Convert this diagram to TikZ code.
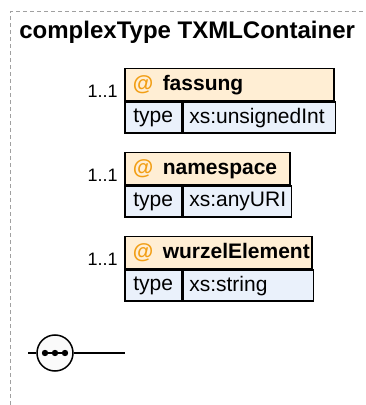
\documentclass[tikz,border=0pt]{standalone}
\usepackage{fontspec}
\setmainfont{Liberation Sans}
\usepackage{tikz}
\usetikzlibrary{positioning,calc}
\definecolor{hdrfill}{RGB}{255,238,212}
\definecolor{typfill}{RGB}{234,241,251}
\definecolor{atorange}{RGB}{242,158,20}
\definecolor{frame}{RGB}{160,160,160}
\tikzset{
  hdr/.style={draw, fill=hdrfill, line width=0.75pt, anchor=north west, minimum height=16pt, inner xsep=4pt, inner ysep=0pt, align=left, font=\fontsize{10.5}{12}\selectfont\bfseries},
  tkey/.style={draw, fill=typfill, line width=0.75pt, anchor=north west, minimum height=15.5pt, minimum width=28.5pt, inner sep=0pt, font=\fontsize{10.5}{12}\selectfont},
  tval/.style={draw, fill=typfill, line width=0.75pt, anchor=north west, minimum height=15.5pt, inner xsep=3pt, inner ysep=0pt, align=left, font=\fontsize{10.5}{12}\selectfont},
  card/.style={anchor=base east, inner sep=0pt, font=\fontsize{9}{10}\selectfont},
  wire/.style={line width=0.75pt},
}
\newcommand{\attname}[1]{\mbox{\makebox[15pt][l]{\color{atorange}@}#1}}

\begin{document}
\begin{tikzpicture}[x=0.5pt,y=0.5pt]
\useasboundingbox (0,0) rectangle (365,405);
% outer frame of the complex type
\draw[frame, line width=0.5pt, dash pattern=on 2pt off 1.5pt] (10,0) -- (10,393) -- (365,393);
\node[anchor=base west, inner sep=0pt, font=\fontsize{12}{14}\selectfont\bfseries] (title) at (19,366) {complexType TXMLContainer};
% attribute fassung
\node[hdr, text width=96.5pt] (fassung) at (124,337) {\attname{fassung}};
\node[card] at ([xshift=-3pt, yshift=2pt]fassung.south west) {1..1};
\node[tkey] (fassungKey) at (fassung.south west) {type};
\node[tval, text width=70pt] (fassungTyp) at (fassungKey.north east) {xs:unsignedInt};
% attribute namespace
\node[hdr, text width=74.5pt] (nsp) at (124,253) {\attname{namespace}};
\node[card] at ([xshift=-3pt, yshift=2pt]nsp.south west) {1..1};
\node[tkey] (nspKey) at (nsp.south west) {type};
\node[tval, text width=48pt] (nspTyp) at (nspKey.north east) {xs:anyURI};
% attribute wurzelElement
\node[hdr, text width=85.5pt] (wurzel) at (124,169) {\attname{wurzelElement}};
\node[card] at ([xshift=-3pt, yshift=2pt]wurzel.south west) {1..1};
\node[tkey] (wurzelKey) at (wurzel.south west) {type};
\node[tval, text width=59pt] (wurzelTyp) at (wurzelKey.north east) {xs:string};
% sequence compositor
\coordinate (seqIn) at (28,52);
\coordinate (seqOut) at (125,52);
\node[draw, circle, wire, fill=black!2, minimum size=18pt, inner sep=0pt] (seq) at (55,52) {};
\draw[wire] (seqIn) -- (seq.west);
\draw[wire] (seq.east) -- (seqOut);
\draw[line width=1pt] ([xshift=-6.5pt]seq.center) -- ([xshift=6.5pt]seq.center);
\fill ([xshift=-5pt]seq.center) circle (1.6pt);
\fill (seq.center) circle (1.6pt);
\fill ([xshift=5pt]seq.center) circle (1.6pt);
\end{tikzpicture}
\end{document}
